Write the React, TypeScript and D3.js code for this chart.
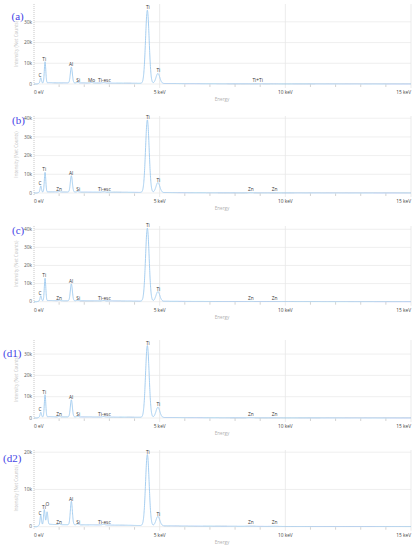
import React from "react";
import * as d3 from "d3";

// ---------- data ----------
const panelNames = ["(a)", "(b)", "(c)", "(d1)", "(d2)"];

// energy axis (keV)
const xTickValues = [0, 5, 10, 15];
const xTickLabels = ["0 eV", "5 keV", "10 keV", "15 keV"];
const xMinorTicks = [1, 2, 3, 4, 6, 7, 8, 9, 11, 12, 13, 14];

// y ticks per panel (counts)
const yTicksA = [0, 10000, 20000, 30000];
const yTicksB = [0, 10000, 20000, 30000, 40000];
const yTicksC = [0, 10000, 20000, 30000, 40000];
const yTicksD1 = [0, 10000, 20000, 30000];
const yTicksD2 = [0, 10000, 20000];
const yMaxes = [38600, 41200, 41800, 36600, 20600];

// continuum background [keV, counts]
const background: [number, number][] = [
  [0, 0], [0.12, 0], [0.2, 350], [0.6, 650], [1.0, 550], [2.0, 500],
  [3.0, 450], [4.0, 350], [5.0, 250], [6.0, 180], [8.0, 110], [10.0, 70], [15.0, 30],
];

// peaks [keV, net counts]
const peaksA: [number, number][] = [
  [0.27, 2600], [0.44, 10200], [1.486, 7600], [1.74, 300], [2.29, 250],
  [2.77, 200], [4.51, 35300], [4.93, 4800], [9.02, 40],
];
const peaksB: [number, number][] = [
  [0.27, 3400], [0.44, 10500], [1.01, 250], [1.486, 8700], [1.74, 250],
  [2.77, 200], [4.51, 38800], [4.93, 5300], [8.63, 70], [9.57, 30],
];
const peaksC: [number, number][] = [
  [0.27, 2900], [0.44, 12400], [1.01, 250], [1.486, 9300], [1.74, 250],
  [2.77, 200], [4.51, 40300], [4.93, 5300], [8.63, 70], [9.57, 30],
];
const peaksD1: [number, number][] = [
  [0.27, 2300], [0.44, 10400], [1.01, 250], [1.486, 8000], [1.74, 250],
  [2.77, 220], [4.51, 33700], [4.93, 4800], [8.63, 70], [9.57, 30],
];
const peaksD2: [number, number][] = [
  [0.27, 2700], [0.41, 4100], [0.52, 3400], [1.01, 250], [1.486, 6300],
  [1.74, 250], [2.77, 200], [4.51, 19100], [4.93, 2500], [8.63, 70], [9.57, 30],
];

// labels [text, keV, counts at label anchor]
const labelsA: [string, number, number][] = [
  ["C", 0.24, 3100], ["Ti", 0.41, 10700], ["Al", 1.48, 8100], ["Si", 1.76, 600],
  ["Mo", 2.29, 600], ["Ti-esc", 2.8, 600], ["Ti", 4.53, 35600], ["Ti", 4.95, 5100],
  ["Ti+Ti", 8.9, 600],
];
const labelsB: [string, number, number][] = [
  ["C", 0.24, 3900], ["Ti", 0.41, 11000], ["Zn", 1.0, 600], ["Al", 1.48, 9200],
  ["Si", 1.76, 600], ["Ti-esc", 2.8, 600], ["Ti", 4.53, 39000], ["Ti", 4.95, 5500],
  ["Zn", 8.63, 600], ["Zn", 9.57, 600],
];
const labelsC: [string, number, number][] = [
  ["C", 0.24, 3300], ["Ti", 0.41, 12900], ["Zn", 1.0, 600], ["Al", 1.48, 9800],
  ["Si", 1.76, 600], ["Ti-esc", 2.8, 600], ["Ti", 4.53, 40500], ["Ti", 4.95, 5500],
  ["Zn", 8.63, 600], ["Zn", 9.57, 600],
];
const labelsD1: [string, number, number][] = [
  ["C", 0.24, 2700], ["Ti", 0.41, 10800], ["Zn", 1.0, 600], ["Al", 1.48, 8400],
  ["Si", 1.76, 600], ["Ti-esc", 2.8, 600], ["Ti", 4.53, 33900], ["Ti", 4.95, 5000],
  ["Zn", 8.63, 600], ["Zn", 9.57, 600],
];
const labelsD2: [string, number, number][] = [
  ["C", 0.24, 3000], ["Ti", 0.4, 4500], ["O", 0.53, 5300], ["Zn", 1.0, 400],
  ["Al", 1.48, 6700], ["Si", 1.76, 400], ["Ti-esc", 2.8, 400], ["Ti", 4.53, 19300],
  ["Ti", 4.95, 2700], ["Zn", 8.63, 400], ["Zn", 9.57, 400],
];

const allPeaks = [peaksA, peaksB, peaksC, peaksD1, peaksD2];
const allLabels = [labelsA, labelsB, labelsC, labelsD1, labelsD2];
const allYTicks = [yTicksA, yTicksB, yTicksC, yTicksD1, yTicksD2];

// ---------- layout ----------
const W = 416;
const H = 550;
const X0 = 34;
const X1 = 411;
const panelTop = [4, 116, 226, 340, 450];
const panelBottom = [84, 193, 301.7, 418, 526.7];
const nameX = [11.5, 12, 12, 3, 3];
const nameY = [19.5, 123.5, 234, 357, 462];

const LINE = "#9cc8ee";
const SANS = "'Open Sans', 'DejaVu Sans', sans-serif";

const bgScale = d3
  .scaleLinear()
  .domain(background.map((d) => d[0]))
  .range(background.map((d) => d[1]))
  .clamp(true);

const sigmaOf = (e: number) => 0.024 + 0.0105 * e;

function spectrum(peaks: [number, number][]): [number, number][] {
  const energies = d3.range(0, 15.0001, 0.004);
  return energies.map((e) => {
    let v = bgScale(e);
    for (const [pe, ph] of peaks) {
      const s = sigmaOf(pe);
      const z = (e - pe) / s;
      if (Math.abs(z) < 6) v += ph * Math.exp(-0.5 * z * z);
    }
    return [e, v];
  });
}

function fmtK(v: number) {
  return v === 0 ? "0" : `${v / 1000}k`;
}

function Panel({ i }: { i: number }) {
  const top = panelTop[i];
  const bottom = panelBottom[i];
  const x = d3.scaleLinear().domain([0, 15]).range([X0, X1]);
  const y = d3.scaleLinear().domain([0, yMaxes[i]]).range([bottom, top]);
  const data = spectrum(allPeaks[i]);
  const line = d3
    .line<[number, number]>()
    .x((d) => x(d[0]))
    .y((d) => y(d[1]));
  const midY = (top + bottom) / 2;
  return (
    <g>
      {allYTicks[i].map((t) => (
        <line key={"h" + t} x1={X0} x2={X1} y1={y(t)} y2={y(t)} stroke="#ebebeb" strokeWidth={0.8} />
      ))}
      {xTickValues.slice(1).map((t) => (
        <line key={"v" + t} x1={x(t)} x2={x(t)} y1={top} y2={bottom + 4} stroke="#e6e6e6" strokeWidth={0.8} />
      ))}
      {xMinorTicks.map((t) => (
        <line key={"m" + t} x1={x(t)} x2={x(t)} y1={bottom + 0.5} y2={bottom + 3} stroke="#b5b5b5" strokeWidth={0.6} />
      ))}
      <line x1={X0} x2={X0} y1={top} y2={bottom + 2} stroke="#b0b0b0" strokeWidth={0.7} strokeDasharray="1 1" />
      {allYTicks[i].map((t) => (
        <text key={"yl" + t} x={X0 - 2} y={y(t) + 1.7} fontSize={4.8} fill="#555" textAnchor="end" fontFamily={SANS}>
          {fmtK(t)}
        </text>
      ))}
      <text
        transform={`translate(17.5,${midY}) rotate(-90)`}
        fontSize={4.6}
        fill="#c4c4c4"
        textAnchor="middle"
        fontFamily={SANS}
      >
        Intensity (Net Counts)
      </text>
      {xTickValues.map((t, k) => (
        <text
          key={"xl" + t}
          x={x(t)}
          y={bottom + 9.8}
          fontSize={4.8}
          fill="#444"
          textAnchor={k === 0 ? "start" : k === xTickValues.length - 1 ? "end" : "middle"}
          fontFamily={SANS}
        >
          {xTickLabels[k]}
        </text>
      ))}
      <text x={222} y={bottom + 16.8} fontSize={4.6} fill="#b0b0b0" textAnchor="middle" fontFamily={SANS}>
        Energy
      </text>
      <path d={line(data) || ""} fill="none" stroke={LINE} strokeWidth={0.9} />
      {allLabels[i].map(([txt, e, c], k) => (
        <text key={"l" + k} x={x(e)} y={y(c) - 1} fontSize={4.8} fill="#333" textAnchor="middle" fontFamily={SANS}>
          {txt}
        </text>
      ))}
      <text x={nameX[i]} y={nameY[i]} fontSize={11} fill="#4343e6" fontFamily="'Liberation Serif', 'Times New Roman', serif">
        {panelNames[i]}
      </text>
    </g>
  );
}

export default function App() {
  return (
    <svg width={W} height={H} style={{ position: "absolute", left: 0, top: 0, background: "#fff" }}>
      {panelNames.map((_, i) => (
        <Panel key={i} i={i} />
      ))}
    </svg>
  );
}
